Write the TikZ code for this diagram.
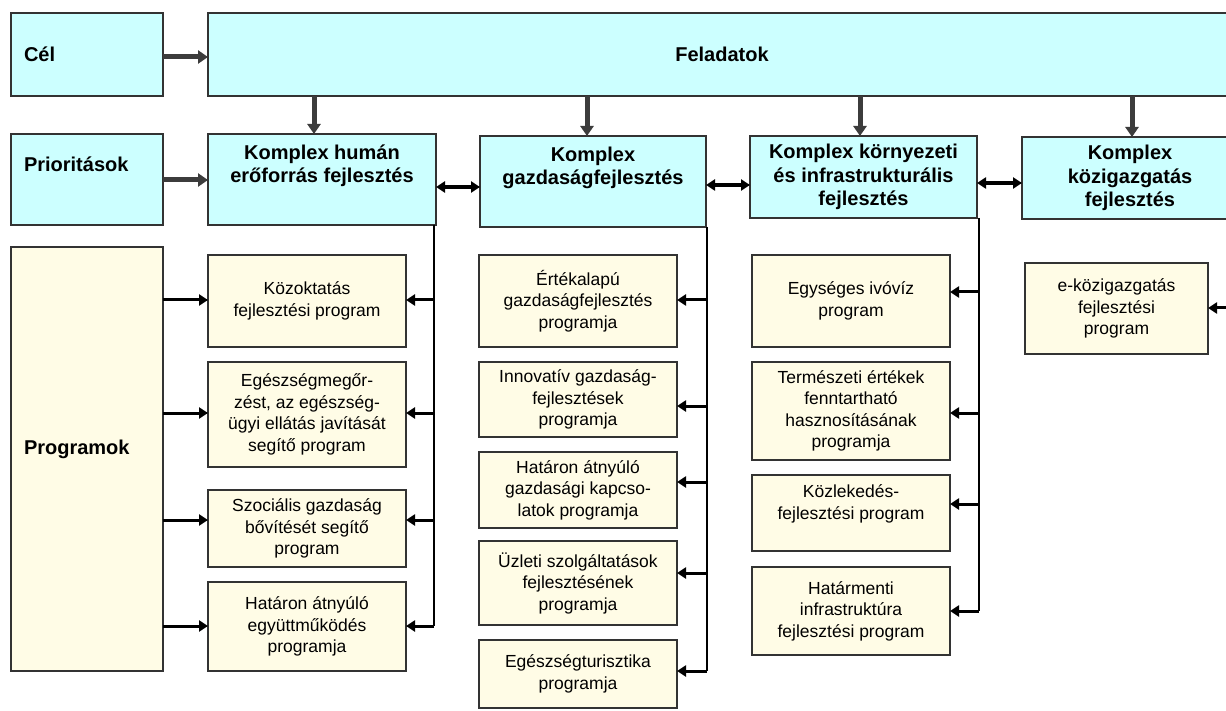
\documentclass[tikz,border=0pt]{standalone}
\usepackage{fontspec}
\setmainfont{Liberation Sans}
\usetikzlibrary{arrows.meta}
\definecolor{cyanfill}{HTML}{CCFFFF}
\definecolor{creamfill}{HTML}{FFFCE6}
\definecolor{edgecol}{HTML}{333333}
\definecolor{darkarrow}{HTML}{3C3C3C}
\begin{document}
\begin{tikzpicture}[x=1pt,y=-1pt,
  box/.style={draw=edgecol, line width=1.4pt, anchor=north west, inner sep=0pt, outer sep=0pt, align=center},
  hdr/.style={box, fill=cyanfill, font=\fontsize{20}{23.5}\selectfont\bfseries},
  lbl/.style={box, fill=cyanfill, font=\fontsize{20}{23.5}\selectfont\bfseries, align=left, inner xsep=13pt, text width=126pt, minimum width=152pt},
  prg/.style={box, fill=creamfill, font=\fontsize{17.5}{21.5}\selectfont, minimum width=198pt},
  bigarr/.style={draw=darkarrow, line width=5pt, -{Triangle[length=10pt,width=13pt]}},
  dblarr/.style={draw=black, line width=3.2pt, {Triangle[length=9pt,width=11pt]}-{Triangle[length=9pt,width=11pt]}},
  parr/.style={draw=black, line width=3pt, -{Triangle[length=9pt,width=11pt]}},
  bus/.style={draw=black, line width=1.6pt}
]
\useasboundingbox (0,0) rectangle (1226,711);
\fill[white] (0,0) rectangle (1226,711);
\clip (0,0) rectangle (1226,711);

% top rows
\node[lbl, minimum height=83pt] (cel) at (11,13) {Cél};
\node[hdr, minimum width=1028pt, minimum height=83pt] (fel) at (208,13) {Feladatok};
\node[lbl, minimum height=91pt] (prio) at (11,134) {Prioritások\\[8pt]\mbox{}};
\node[hdr, minimum width=228pt, minimum height=91pt] (hum) at (208,134) {Komplex humán\\erőforrás fejlesztés\\[8pt]\mbox{}};
\node[hdr, minimum width=226pt, minimum height=91pt] (gaz) at (480,136) {Komplex\\gazdaságfejlesztés\\[8pt]\mbox{}};
\node[hdr, minimum width=227pt, minimum height=82pt] (kor) at (750,136) {Komplex környezeti\\és infrastrukturális\\fejlesztés};
\node[hdr, minimum width=216pt, minimum height=82pt] (koz) at (1022,137) {Komplex\\közigazgatás\\fejlesztés};

% Programok
\node[lbl, fill=creamfill, minimum height=424pt] (prog) at (11,247) {Programok\\\mbox{}};

% human column
\node[prg, minimum height=92pt] (k1) at (208,255) {Közoktatás\\fejlesztési program};
\node[prg, minimum height=105pt] (k2) at (208,362) {Egészségmegőr-\\zést, az egészség-\\ügyi ellátás javítását\\segítő program};
\node[prg, minimum height=77pt] (k3) at (208,490) {Szociális gazdaság\\bővítését segítő\\program};
\node[prg, minimum height=89pt] (k4) at (208,582) {Határon átnyúló\\együttműködés\\programja};

% gazdasag column
\node[prg, minimum height=92pt] (g1) at (479,255) {Értékalapú\\gazdaságfejlesztés\\programja};
\node[prg, minimum height=75pt] (g2) at (479,362) {Innovatív gazdaság-\\fejlesztések\\programja};
\node[prg, minimum height=76pt] (g3) at (479,452) {Határon átnyúló\\gazdasági kapcso-\\latok programja};
\node[prg, minimum height=84pt] (g4) at (479,541) {Üzleti szolgáltatások\\fejlesztésének\\programja};
\node[prg, minimum height=68pt] (g5) at (479,640) {Egészségturisztika\\programja};

% kornyezeti column
\node[prg, minimum height=92pt] (e1) at (752,255) {Egységes ivóvíz\\program};
\node[prg, minimum height=98pt] (e2) at (752,362) {Természeti értékek\\fenntartható\\hasznosításának\\programja};
\node[prg, minimum height=76pt] (e3) at (752,475) {Közlekedés-\\fejlesztési program\\\mbox{}};
\node[prg, minimum height=88pt] (e4) at (752,567) {Határmenti\\infrastruktúra\\fejlesztési program};

% kozigazgatas column
\node[prg, minimum width=183pt, minimum height=91pt] (eko) at (1025,263) {e-közigazgatás\\fejlesztési\\program};

% helper coordinates
\coordinate (ca) at (0,57);
\coordinate (pa) at (0,180);
\coordinate (dx1) at (314,0);
\coordinate (dx2) at (587,0);
\coordinate (dx3) at (860,0);
\coordinate (dx4) at (1132,0);
\coordinate (da1) at (0,187);
\coordinate (da2) at (0,185);
\coordinate (da3) at (0,183);

% big arrows
\draw[bigarr] (cel.east |- ca) -- (fel.west |- ca);
\draw[bigarr] (prio.east |- pa) -- (hum.west |- pa);
\draw[bigarr] (fel.south -| dx1) -- (hum.north -| dx1);
\draw[bigarr] (fel.south -| dx2) -- (gaz.north -| dx2);
\draw[bigarr] (fel.south -| dx3) -- (kor.north -| dx3);
\draw[bigarr] (fel.south -| dx4) -- (koz.north -| dx4);

% double arrows
\draw[dblarr] (hum.east |- da1) -- (gaz.west |- da1);
\draw[dblarr] (gaz.east |- da2) -- (kor.west |- da2);
\draw[dblarr] (kor.east |- da3) -- (koz.west |- da3);

% human bus
\coordinate (hb1) at (434,300);
\coordinate (hb2) at (434,413);
\coordinate (hb3) at (434,520);
\coordinate (hb4) at (434,626);
\draw[bus] (hum.south -| hb1) -- (hb4);
\draw[parr] (hb1) -- (hb1 -| k1.east);
\draw[parr] (hb2) -- (hb2 -| k2.east);
\draw[parr] (hb3) -- (hb3 -| k3.east);
\draw[parr] (hb4) -- (hb4 -| k4.east);

% Programok arrows
\draw[parr] (hb1 -| prog.east) -- (hb1 -| k1.west);
\draw[parr] (hb2 -| prog.east) -- (hb2 -| k2.west);
\draw[parr] (hb3 -| prog.east) -- (hb3 -| k3.west);
\draw[parr] (hb4 -| prog.east) -- (hb4 -| k4.west);

% gazdasag bus
\coordinate (gb1) at (707,300);
\coordinate (gb2) at (707,406);
\coordinate (gb3) at (707,482);
\coordinate (gb4) at (707,573);
\coordinate (gb5) at (707,671);
\draw[bus] (gaz.south -| gb1) -- (gb5);
\draw[parr] (gb1) -- (gb1 -| g1.east);
\draw[parr] (gb2) -- (gb2 -| g2.east);
\draw[parr] (gb3) -- (gb3 -| g3.east);
\draw[parr] (gb4) -- (gb4 -| g4.east);
\draw[parr] (gb5) -- (gb5 -| g5.east);

% kornyezeti bus
\coordinate (eb1) at (979,292);
\coordinate (eb2) at (979,413);
\coordinate (eb3) at (979,504);
\coordinate (eb4) at (979,611);
\draw[bus] (kor.south -| eb1) -- (eb4);
\draw[parr] (eb1) -- (eb1 -| e1.east);
\draw[parr] (eb2) -- (eb2 -| e2.east);
\draw[parr] (eb3) -- (eb3 -| e3.east);
\draw[parr] (eb4) -- (eb4 -| e4.east);

% kozigazgatas arrow from the right edge
\coordinate (kb1) at (1234,308);
\draw[parr] (kb1) -- (kb1 -| eko.east);
\end{tikzpicture}
\end{document}
